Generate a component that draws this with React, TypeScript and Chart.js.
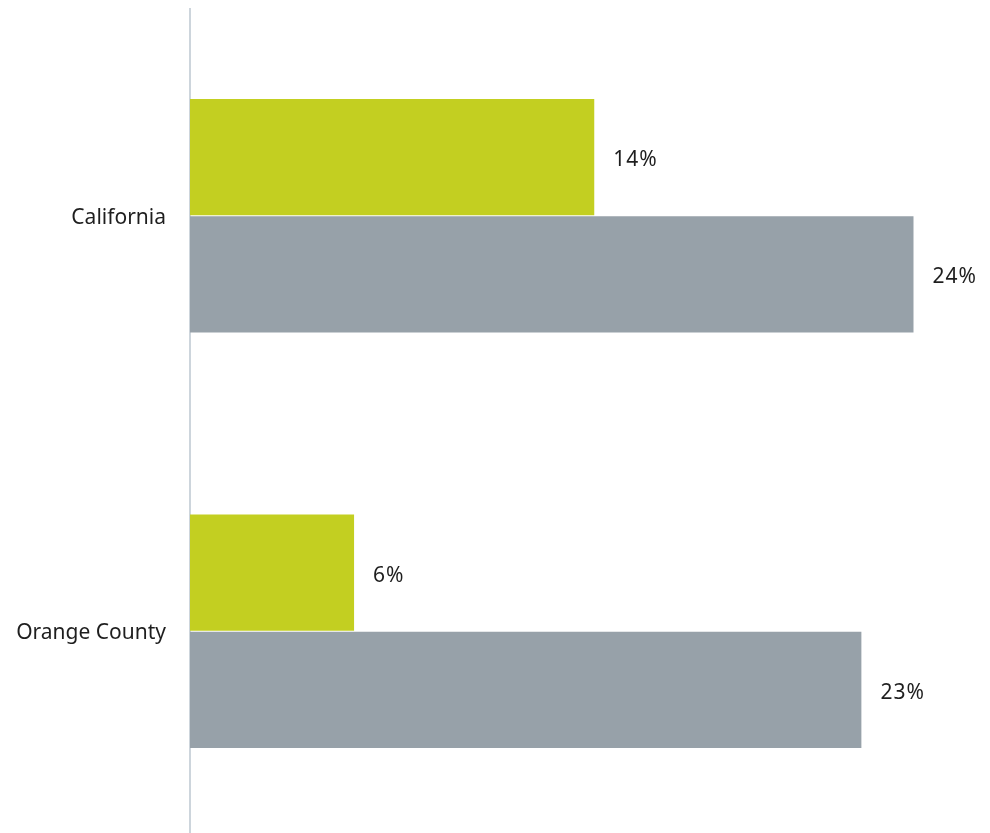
import React, { useEffect, useRef } from "react";
import { Chart, registerables } from "chart.js";

Chart.register(...registerables);

const categories = ["California", "Orange County"];
const seriesGreen = [13.65, 5.54];
const seriesGray = [24.43, 22.67];
const xMax = 26;

const FONT = "'Noto Sans', 'Open Sans', sans-serif";

const valueLabels = {
  id: "valueLabels",
  afterDatasetsDraw(chart: any) {
    const ctx = chart.ctx;
    ctx.save();
    ctx.font = `21px ${FONT}`;
    ctx.fillStyle = "#1e1e1e";
    ctx.textAlign = "left";
    ctx.textBaseline = "middle";
    try {
      (ctx as any).letterSpacing = "1px";
    } catch (e) {}
    chart.data.datasets.forEach((ds: any, di: number) => {
      const meta = chart.getDatasetMeta(di);
      meta.data.forEach((bar: any, i: number) => {
        const v = ds.data[i];
        ctx.fillText(`${Math.round(v)}%`, bar.x + 19, bar.y + 3);
      });
    });
    ctx.restore();
  },
};

export default function App() {
  const ref = useRef<HTMLCanvasElement>(null);
  useEffect(() => {
    if (!ref.current) return;
    const chart = new Chart(ref.current, {
      type: "bar",
      data: {
        labels: categories,
        datasets: [
          {
            data: seriesGreen,
            backgroundColor: "#c3cf21",
            categoryPercentage: 0.565,
            barPercentage: 0.99,
          },
          {
            data: seriesGray,
            backgroundColor: "#97a1a9",
            categoryPercentage: 0.565,
            barPercentage: 0.99,
          },
        ],
      },
      options: {
        indexAxis: "y",
        responsive: false,
        animation: false,
        layout: { padding: { top: 0, bottom: 0, left: 0, right: 30 } },
        plugins: {
          legend: { display: false },
          tooltip: { enabled: false },
        },
        scales: {
          x: {
            display: false,
            min: 0,
            max: xMax,
          },
          y: {
            afterFit(scale: any) {
              scale.width = 182;
              scale.paddingTop = 0;
              scale.paddingBottom = 0;
            },
            grid: { display: false },
            border: { display: true, color: "#cdd5dc", width: 2 },
            ticks: {
              color: "#1e1e1e",
              font: { family: FONT, size: 21 },
              padding: 16,
              labelOffset: 2,
            },
          },
        },
      },
      plugins: [valueLabels],
    });
    return () => chart.destroy();
  }, []);
  return (
    <div style={{ width: 982, height: 825, overflow: "hidden" }}>
      <canvas ref={ref} width={982} height={831} style={{ display: "block" }} />
    </div>
  );
}
